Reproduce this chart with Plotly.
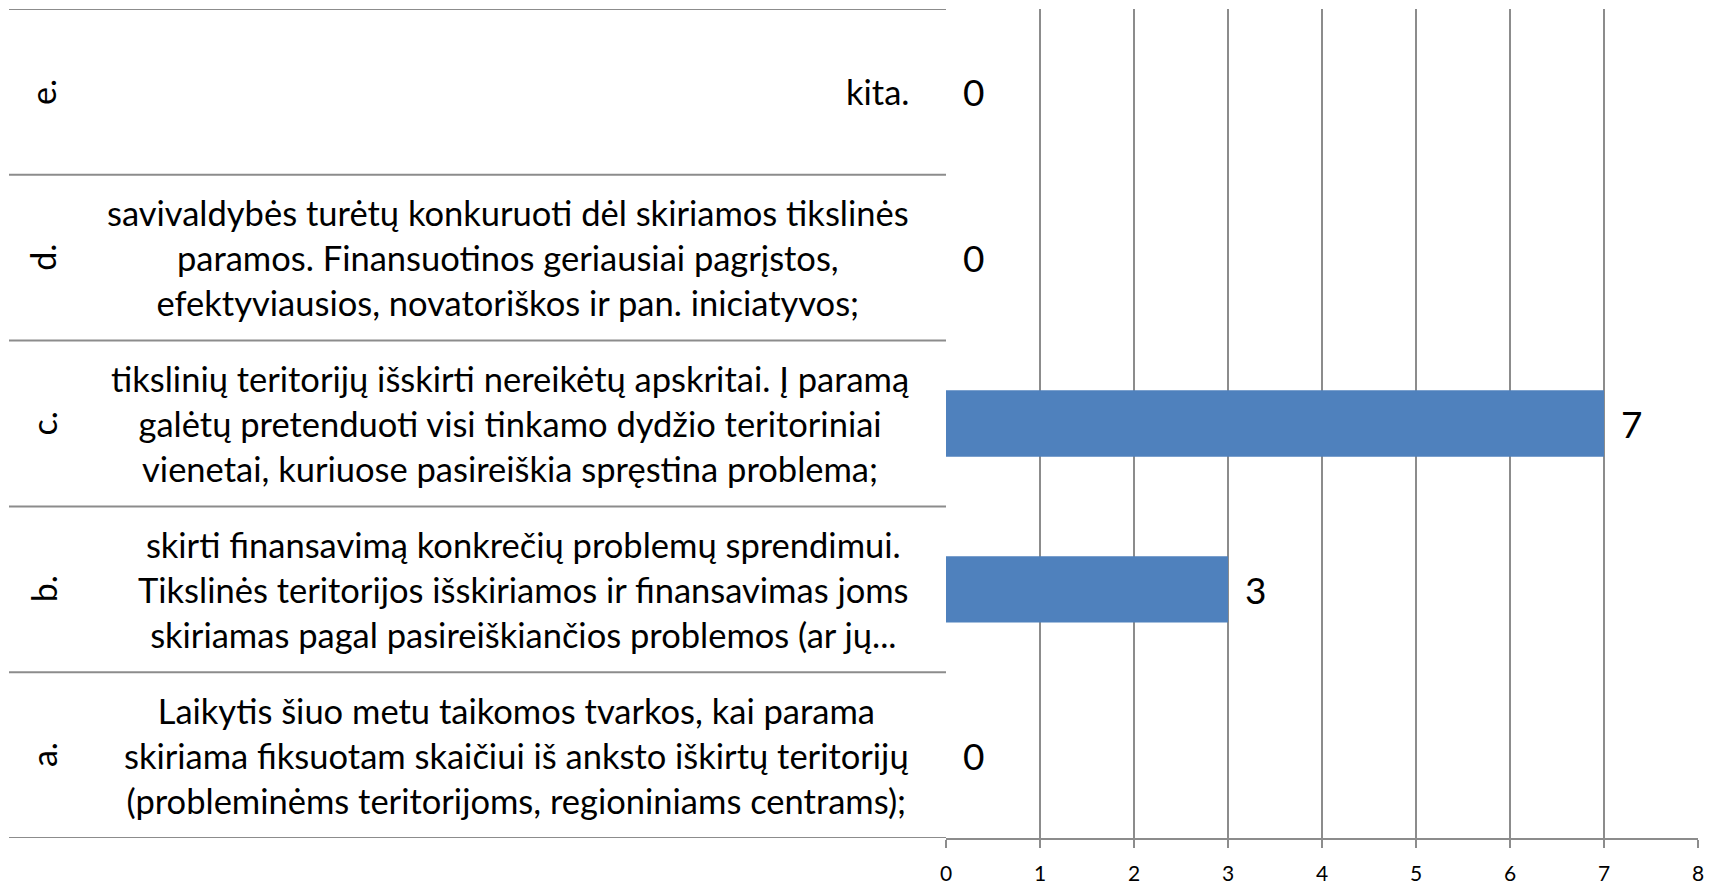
import plotly.graph_objects as go

W, H = 1713, 889

letters = ["a.", "b.", "c.", "d.", "e."]
categories = [
    "Laikytis šiuo metu taikomos tvarkos, kai parama<br>skiriama fiksuotam skaičiui iš anksto iškirtų teritorijų<br>(probleminėms teritorijoms, regioniniams centrams);",
    "skirti finansavimą konkrečių problemų sprendimui.<br>Tikslinės teritorijos išskiriamos ir finansavimas joms<br>skiriamas pagal pasireiškiančios problemos (ar jų...",
    "tikslinių teritorijų išskirti nereikėtų apskritai. Į paramą<br>galėtų pretenduoti visi tinkamo dydžio teritoriniai<br>vienetai, kuriuose pasireiškia spręstina problema;",
    "savivaldybės turėtų konkuruoti dėl skiriamos tikslinės<br>paramos. Finansuotinos geriausiai pagrįstos,<br>efektyviausios, novatoriškos ir pan. iniciatyvos;",
    "kita.",
]
values = [0, 3, 7, 0, 0]
x_ticks = [0, 1, 2, 3, 4, 5, 6, 7, 8]

FONT = "Lato"
GRID = "#8c8c8c"
BAR = "#4F81BD"

x0, x1 = 946 / W, 1698 / W
y0, y1 = (H - 838) / H, (H - 9) / H
label_left = 9 / W

fig = go.Figure()
fig.add_trace(go.Bar(
    x=values, y=list(range(len(values))), orientation="h",
    marker=dict(color=BAR, line=dict(width=0)), width=0.4,
    hoverinfo="skip",
))

ann = []
for i, v in enumerate(values):
    ann.append(dict(x=v, y=i, xref="x", yref="y", text=str(v), showarrow=False,
                    xanchor="left", yanchor="middle", xshift=15,
                    font=dict(family=FONT, size=37, color="black")))
    ann.append(dict(x=911 / W, y=i, xref="paper", yref="y", text=categories[i],
                    showarrow=False, xanchor="right", yanchor="middle", align="center",
                    font=dict(family=FONT, size=34.5, color="black")))
    ann.append(dict(x=43 / W, y=i, xref="paper", yref="y", text=letters[i],
                    showarrow=False, xanchor="center", yanchor="middle", textangle=-90,
                    font=dict(family=FONT, size=34, color="black")))

shapes = []
for b in range(len(values) + 1):
    shapes.append(dict(type="line", xref="paper", yref="y", x0=label_left, x1=x0,
                       y0=b - 0.5, y1=b - 0.5, line=dict(color=GRID, width=2)))

fig.update_layout(
    width=W, height=H, margin=dict(l=0, r=0, t=0, b=0),
    plot_bgcolor="white", paper_bgcolor="white", showlegend=False,
    annotations=ann, shapes=shapes,
    xaxis=dict(domain=[x0, x1], range=[0, 8], tickvals=x_ticks, showgrid=True,
               gridcolor=GRID, gridwidth=2, zeroline=False, showline=True,
               linecolor=GRID, linewidth=2, ticks="outside", ticklen=8,
               tickcolor=GRID, tickwidth=2, automargin=False,
               tickfont=dict(family=FONT, size=21, color="black"), ticklabelstandoff=8),
    yaxis=dict(domain=[y0, y1], range=[-0.5, 4.5], showticklabels=False,
               showgrid=False, zeroline=False, showline=False, automargin=False),
)
fig.write_html("out.html", config={"displayModeBar": False},
               post_script="document.body.style.margin='0';document.body.style.overflow='hidden';")
